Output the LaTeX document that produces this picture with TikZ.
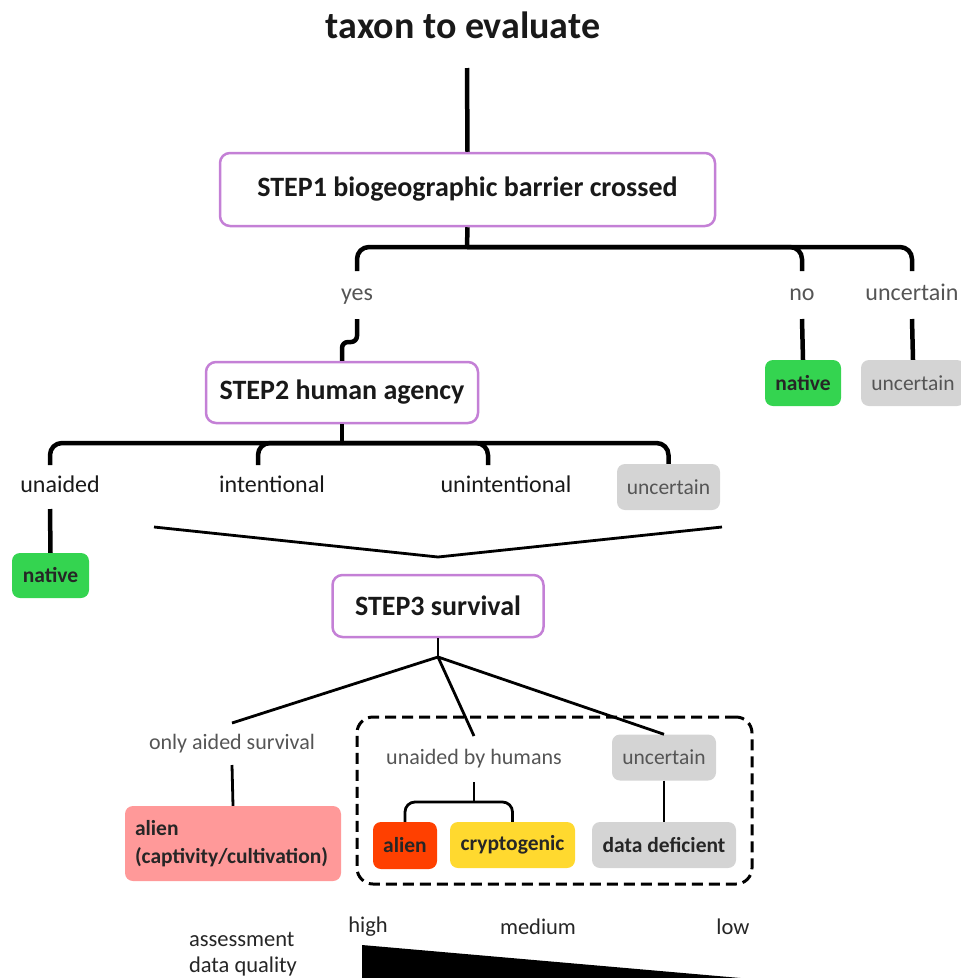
\documentclass[tikz,border=0pt]{standalone}
\usepackage{fontspec}
\setmainfont{Carlito}
\usepackage{tikz}

\definecolor{stepline}{RGB}{196,128,214}
\definecolor{nativegreen}{RGB}{52,212,80}
\definecolor{boxgrey}{RGB}{212,212,212}
\definecolor{alienpink}{RGB}{255,153,153}
\definecolor{alienred}{RGB}{255,64,0}
\definecolor{cryptoyellow}{RGB}{255,217,47}
\definecolor{labelgrey}{RGB}{85,85,85}

\begin{document}
\begin{tikzpicture}[x=1pt,y=-1pt,line join=round,
  tree/.style={line width=4.5pt},
  twig/.style={line width=2.8pt},
  step node/.style={draw=stepline,line width=2.5pt,rounded corners=10pt,fill=white,
    text=black!90,font=\fontsize{28}{34}\selectfont\bfseries},
  answer node/.style={inner sep=0pt,text height=16pt,text depth=5pt,text=labelgrey,
    font=\fontsize{24}{28}\selectfont},
  branch node/.style={answer node,text=black!90},
  survive node/.style={inner sep=0pt,text height=15pt,text depth=5pt,text=labelgrey,
    font=\fontsize{22}{26}\selectfont},
  result node/.style={rounded corners=8pt,inner sep=0pt,text=black!85,
    font=\fontsize{21.5}{28}\selectfont\bfseries},
  quality node/.style={inner sep=0pt,text=black!85,font=\fontsize{22.5}{26}\selectfont}]

  \useasboundingbox (0,0) rectangle (961,978);

  % step 1
  \node[font=\fontsize{38}{44}\selectfont\bfseries,text=black!90] (taxon) at (463,25) {taxon to evaluate};
  \coordinate (top) at (467,68);
  \node[step node,minimum width=495,minimum height=73] (s1) at (467.5,189.5) {STEP1 biogeographic barrier crossed};
  \coordinate (j1) at (467,247);
  \node[answer node,outer ysep=13.5] (yes) at (357,295) {yes};
  \node[answer node,outer ysep=13.5] (no) at (802,295) {no};
  \node[answer node,outer ysep=13.5] (unc1) at (912,295) {uncertain};
  \node[result node,fill=nativegreen,minimum width=76,minimum height=46] (nat1) at (803,383) {native};
  \node[result node,fill=boxgrey,text=labelgrey,font=\fontsize{21.5}{28}\selectfont,
    minimum width=104,minimum height=46] (unc1box) at (913,383) {uncertain};

  \draw[tree] (top) -- (s1.north);
  \draw[tree] (s1.south) -- (j1);
  \draw[tree,rounded corners=12pt] (yes.north) |- (j1) -| (unc1.north);
  \draw[tree,rounded corners=12pt] (no.north) |- (j1);
  \draw[tree] (no.south) -- (nat1.north);
  \draw[tree] (unc1.south) -- (unc1box.north);

  % step 2
  \node[step node,minimum width=272,minimum height=61] (s2) at (342,392.5) {STEP2 human agency};
  \draw[tree,rounded corners=6pt] (yes.south) -- ++(0,23) -| (s2.north);
  \coordinate (j2) at (342,443);
  \node[branch node,outer ysep=11.5] (unaided) at (60,487) {unaided};
  \node[branch node,outer ysep=11.5] (intent) at (272,487) {intentional};
  \node[branch node,outer ysep=11.5] (unint) at (506,487) {unintentional};
  \node[result node,fill=boxgrey,text=labelgrey,font=\fontsize{21.5}{28}\selectfont,
    minimum width=103,minimum height=46] (unc2) at (668.5,487) {uncertain};
  \node[result node,fill=nativegreen,minimum width=77,minimum height=45] (nat2) at (50.5,575.5) {native};

  \draw[tree] (s2.south) -- (j2);
  \draw[tree,rounded corners=12pt] ([xshift=-10pt]unaided.north) |- (j2) -| (unc2.north);
  \draw[tree,rounded corners=12pt] ([xshift=-14pt]intent.north) |- (j2);
  \draw[tree,rounded corners=12pt] ([xshift=-18pt]unint.north) |- (j2);
  \draw[tree] ([xshift=-10pt]unaided.south) -- (nat2.north);

  \coordinate (vl) at (154,527); \coordinate (vm) at (438,557); \coordinate (vr) at (722,527);
  \draw[twig] (vl) -- (vm) -- (vr);

  % step 3
  \node[step node,minimum width=211,minimum height=62] (s3) at (438,606) {STEP3 survival};
  \coordinate (j3) at (438,657);
  \node[draw,dashed,line width=3pt,dash pattern=on 11pt off 6pt,rounded corners=16pt,
    minimum width=395,minimum height=167] (group) at (554.5,800.5) {};
  \node[survive node,outer ysep=11] (aided) at (232,744) {only aided survival};
  \node[survive node,outer ysep=13] (byhum) at (474,759) {unaided by humans};
  \node[result node,fill=boxgrey,text=labelgrey,font=\fontsize{21.5}{28}\selectfont,
    minimum width=104,minimum height=46] (unc3) at (664,757.5) {uncertain};
  \node[result node,fill=alienpink,align=left,text width=196pt,inner xsep=10pt,
    minimum height=75] (alien1) at (233,843.5) {alien\\(captivity/cultivation)};
  \node[result node,fill=alienred,minimum width=64,minimum height=47] (alien2) at (405,845.5) {alien};
  \node[result node,fill=cryptoyellow,minimum width=125,minimum height=46] (crypto) at (512.5,845) {cryptogenic};
  \node[result node,fill=boxgrey,minimum width=144,minimum height=46] (ddef) at (664,845) {data deficient};
  \coordinate (j4) at (474,802);

  \draw[twig] (s3.south) -- (j3);
  \draw[twig] (j3) -- (aided.north);
  \draw[twig] (j3) -- (byhum.north);
  \draw[twig] (j3) -- (unc3.north);
  \draw[twig] (aided.south) -- (alien1.north);
  \draw[twig] (byhum.south) -- (j4);
  \draw[twig,rounded corners=10pt] (alien2.north) |- (j4) -| (crypto.north);
  \draw[twig] (unc3.south) -- (ddef.north);

  % data quality
  \node[quality node] (high) at (368,927) {high};
  \node[quality node] (medium) at (538,927) {medium};
  \node[quality node] (low) at (733,927) {low};
  \node[quality node,align=left] (assess) at (243,954) {assessment\\data quality};
  \fill (362,945) -- (878,990) -- (362,990) -- cycle;
\end{tikzpicture}
\end{document}
